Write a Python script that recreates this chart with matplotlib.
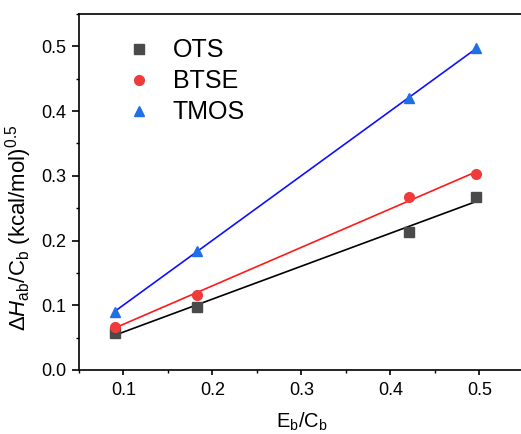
import numpy as np
import matplotlib
matplotlib.use("Agg")
import matplotlib.pyplot as plt
from matplotlib.ticker import MultipleLocator
from matplotlib.lines import Line2D

plt.rcParams['font.family'] = ['Liberation Sans', 'DejaVu Sans']
plt.rcParams['mathtext.fontset'] = 'custom'
plt.rcParams['mathtext.rm'] = 'Liberation Sans'
plt.rcParams['mathtext.it'] = 'Liberation Sans:italic'

# Eb/Cb ratios
x = np.array([0.090, 0.183, 0.421, 0.496])

# ΔHab/Cb values per silane
ots = np.array([0.0575, 0.0978, 0.2136, 0.2677])
btse = np.array([0.0670, 0.1158, 0.2667, 0.3027])
tmos = np.array([0.0900, 0.1840, 0.4205, 0.4968])

series = [
    ("OTS", ots, "s", "#4a4a4a", "black"),
    ("BTSE", btse, "o", "#ef3b3b", "#ff1a1a"),
    ("TMOS", tmos, "^", "#1f6fe5", "#1010ff"),
]

fig = plt.figure(figsize=(5.21, 4.34), dpi=100)
ax = fig.add_axes([0.1516, 0.1475, 0.854, 0.8202])

handles = []
for name, y, mk, mcol, lcol in series:
    k, b = np.polyfit(x, y, 1)
    xf = np.array([x.min(), x.max()])
    ax.plot(xf, k * xf + b, color=lcol, lw=1.2, zorder=2)
    ax.plot(x, y, ls="none", marker=mk, ms=7, color=mcol, mec=mcol, zorder=3)
    handles.append(Line2D([], [], ls="none", marker=mk, ms=7, color=mcol, label=name))

ax.set_xlim(0.05, 0.55)
ax.set_ylim(0.0, 0.55)
ax.xaxis.set_minor_locator(MultipleLocator(0.05))
ax.yaxis.set_minor_locator(MultipleLocator(0.05))
ax.set_xticks([0.1, 0.2, 0.3, 0.4, 0.5])
ax.set_yticks([0.0, 0.1, 0.2, 0.3, 0.4, 0.5])
ax.tick_params(axis="x", which="major", direction="out", length=3.8, width=1.2,
               pad=4.5, labelsize=13)
ax.tick_params(axis="y", which="major", direction="out", length=5, width=1.2,
               pad=4, labelsize=13)
ax.tick_params(which="minor", direction="out", length=2.5, width=1.0)
for s in ax.spines.values():
    s.set_linewidth(1.2)

ax.set_xlabel(r"E$_\mathrm{b}$/C$_\mathrm{b}$", fontsize=14.5, labelpad=9)
ax.set_ylabel(r"$\Delta\mathit{H}_\mathrm{ab}$/C$_\mathrm{b}$ (kcal/mol)$^{0.5}$", fontsize=16)
ax.yaxis.set_label_coords(-0.101, 0.40)

ax.legend(handles=handles, loc="upper left", bbox_to_anchor=(0.051, 0.995),
          frameon=False, fontsize=18, handletextpad=0.75, labelspacing=0.28,
          handlelength=1.2)

fig.savefig("out.png", dpi=100)
